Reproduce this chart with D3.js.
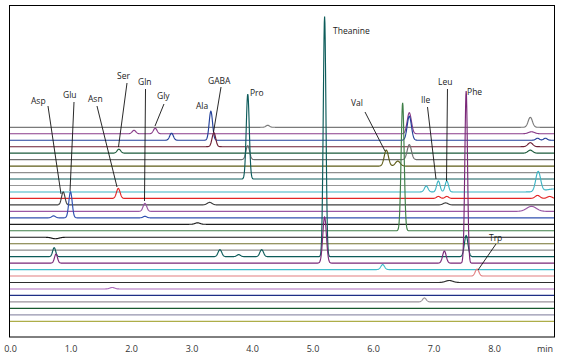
<!DOCTYPE html>
<html>
<head>
<meta charset="utf-8">
<script src="https://cdn.jsdelivr.net/npm/d3@7"></script>
<style>
body { margin: 0; background: #fff; }
</style>
</head>
<body>
<script>

// RETENTION TIME (min) AND SIGNAL LEVEL (mAU, arbitrary)
var timeTicks = [0, 1, 2, 3, 4, 5, 6, 7, 8]

// ONE ENTRY PER CHROMATOGRAM, TOP TO BOTTOM: [time, height, sigma]
var tracePeaks = [
	[[4.26,2,0.03],[8.6,10,0.035]],
	[[2.05,3.5,0.03],[2.40,5.5,0.03],[6.6,21,0.035],[8.62,2,0.05]],
	[[2.67,7,0.03],[3.32,29,0.028],[6.6,24,0.035],[8.72,2,0.03],[8.85,2,0.03]],
	[[3.37,14,0.03],[8.6,4,0.04]],
	[[1.80,4,0.03],[8.6,3,0.04]],
	[[3.93,14,0.03],[6.6,15,0.035]],
	[[6.22,16,0.035],[6.41,5,0.04]],
	[],
	[[3.93,85,0.025]],
	[],
	[[6.88,6,0.03],[7.08,11,0.028],[7.22,11,0.028],[8.73,20,0.04],[9.0,3,0.15]],
	[[1.79,10,0.03],[7.08,2,0.03],[7.22,2,0.03],[8.72,3,0.04],[8.92,2,0.04]],
	[[0.88,13,0.028],[3.3,2.5,0.04],[7.2,2,0.04]],
	[[2.23,8,0.03],[8.62,5,0.08]],
	[[0.72,2,0.03],[1.00,26,0.028],[2.23,1.5,0.03]],
	[[3.1,1.5,0.04]],
	[[6.49,128,0.025]],
	[[0.75,-1.5,0.06]],
	[],
	[],
	[[0.73,9,0.025],[3.47,7,0.03],[3.78,2,0.03],[4.16,7,0.03],[5.2,240,0.022],[7.54,21,0.03]],
	[[0.76,9,0.025],[5.2,46,0.03],[7.18,12,0.03],[7.54,172,0.022]],
	[[6.16,5,0.03]],
	[[7.72,7,0.03]],
	[[7.26,2,0.06]],
	[[1.69,1.5,0.04]],
	[],
	[[6.85,4,0.03]],
	[],
	[],
	[]
]

var traceColors = ["#7a7a7a","#8a3d8a","#23409a","#6e1f33","#1d5b3c","#6f6f6f","#5f5d18","#8f8f8f",
	"#0e5c5c","#979797","#3db4c4","#e32626","#404040","#9a58a4","#3050b0","#1e1e1e","#3f7f48",
	"#151515","#73722f","#8e8e8e","#0d5c5a","#7a2878","#3fbccc","#e27e80","#2e2e2e","#ad6cbd",
	"#1f2f86","#9a929a","#185a2e","#9593ad","#adad48"]

// PEAK NAMES WITH TEXT ANCHOR AND LEADER LINE, IN (min, mAU)
var peakNames = ["Asp","Glu","Asn","Ser","Gln","Gly","Ala","GABA","Pro","Theanine","Val","Ile","Leu","Phe","Trp"]
var nameAt = [[0.347,233],[0.876,239.5],[1.289,235.3],[1.769,258],[2.116,252],[2.430,238],[3.074,228],
	[3.273,253.5],[3.967,241],[5.339,303.5],[5.636,231],[6.793,234],[7.074,252],[7.554,242],[7.917,96.3]]
var leaders = [[0.628,231,0.843,143],[1.058,235,0.992,146],[1.438,231,1.769,150],[1.934,254,1.793,190],
	[2.240,248,2.223,136],[2.545,233,2.397,211],null,[3.488,250,3.364,205],null,null,
	[5.868,225,6.198,186],[6.901,230,7.041,158],[7.231,248,7.215,156],null,[8.033,93,7.736,67]]

var topLevel = 209.7   // BASELINE OF FIRST TRACE
var traceStep = 6.467  // OFFSET BETWEEN TRACES

window.onload = function() {
	var W = 565, H = 359

	var svg = d3.select("body").append("svg")
		.attr("width", W)
		.attr("height", H)
		.style("font-family", "'Open Sans', sans-serif")

	var x = d3.scaleLinear().domain([0, 9]).range([10, 554.5])
	var y = d3.scaleLinear().domain([0, 332]).range([337, 5])

	svg.append("clipPath").attr("id", "plotclip")
		.append("rect").attr("x", 10).attr("y", 5).attr("width", 544).attr("height", 332)

	//BUILD EACH TRACE FROM ITS PEAK LIST
	var times = d3.range(0, 9.0001, 0.005)
	var traces = tracePeaks.map(function(peaks, i){
		var base = topLevel - i * traceStep
		return times.map(function(t){
			var v = base
			peaks.forEach(function(p){
				var z = (t - p[0]) / p[2]
				v += p[1] * Math.exp(-0.5 * z * z)
			})
			return [t, v]
		})
	})

	var line = d3.line()
		.x(function(d){ return x(d[0]) })
		.y(function(d){ return y(d[1]) })

	svg.append("g")
		.attr("clip-path", "url(#plotclip)")
		.selectAll("path")
		.data(traces)
		.enter().append("path")
		.attr("d", line)
		.attr("fill", "none")
		.attr("stroke", function(d, i){ return traceColors[i] })
		.attr("stroke-width", 1.15)

	//LEADER LINES AND NAMES
	svg.append("g").selectAll("line")
		.data(leaders.filter(function(d){ return d }))
		.enter().append("line")
		.attr("x1", function(d){ return x(d[0]) })
		.attr("y1", function(d){ return y(d[1]) })
		.attr("x2", function(d){ return x(d[2]) })
		.attr("y2", function(d){ return y(d[3]) })
		.attr("stroke", "#111")
		.attr("stroke-width", 0.9)

	svg.append("g").selectAll("text")
		.data(peakNames)
		.enter().append("text")
		.attr("x", function(d, i){ return x(nameAt[i][0]) })
		.attr("y", function(d, i){ return y(nameAt[i][1]) })
		.attr("font-size", 8.5)
		.attr("fill", "#222")
		.text(function(d){ return d })

	//FRAME
	svg.append("rect")
		.attr("x", 9.5).attr("y", 5.5)
		.attr("width", 545).attr("height", 331.5)
		.attr("fill", "none")
		.attr("stroke", "#000")
		.attr("stroke-width", 1)

	//TIME AXIS, LABELS ONLY
	var axis = svg.append("g")
		.attr("transform", "translate(0,337)")
		.call(d3.axisBottom(x).tickValues(timeTicks).tickFormat(d3.format(".1f")).tickSize(0).tickPadding(9))
	axis.select(".domain").remove()
	axis.selectAll("text")
		.attr("font-size", 9)
		.attr("font-family", "'Open Sans', sans-serif")
		.attr("fill", "#333")

	svg.append("text")
		.attr("x", 553).attr("y", 352)
		.attr("text-anchor", "end")
		.attr("font-size", 9)
		.attr("fill", "#333")
		.text("min")
}
</script>
</body>
</html>
